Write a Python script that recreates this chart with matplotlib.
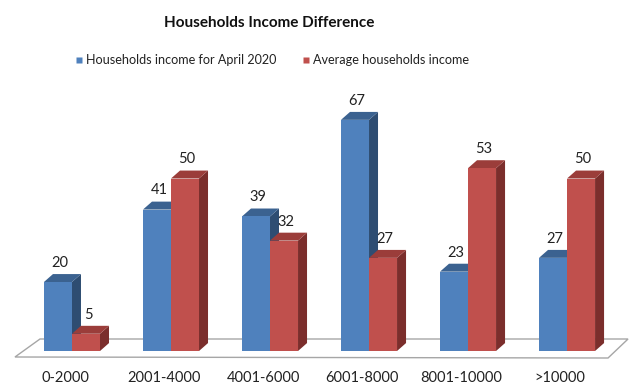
import matplotlib
matplotlib.use("Agg")
import matplotlib.pyplot as plt
from matplotlib.patches import Polygon
from matplotlib.lines import Line2D

categories = ["0-2000", "2001-4000", "4001-6000", "6001-8000", "8001-10000", ">10000"]
april_2020 = [20, 41, 39, 67, 23, 27]
average = [5, 50, 32, 27, 53, 50]
series_names = ["Households income for April 2020", "Average households income"]

# face colours: front, top, side
blue = ("#4F81BD", "#3B6290", "#2E4D72")
red = ("#C0504D", "#9B3D3A", "#7B2E2C")

plt.rcParams["font.family"] = ["Lato", "DejaVu Sans"]

fig = plt.figure(figsize=(6.3, 3.85), dpi=100)
ax = fig.add_axes([0, 0, 1, 1])
ax.set_xlim(-0.727, 5.636)
ax.set_ylim(-9.855, 101.74)
ax.axis("off")

bar_w = 0.283     # width of one bar (category units)
dx, dy = 0.091, 2.3  # depth offset of the 3D extrusion

# floor plane
fx = lambda p: (p - 72) / 99
fy = lambda p: (351 - p) / 3.45
floor = Polygon([(fx(15), fy(357)), (fx(608), fy(358)), (fx(628), fy(339)), (fx(40), fy(339))],
                closed=True, facecolor="white", edgecolor="#A6A6A6", lw=1.0, zorder=1)
ax.add_patch(floor)


def bar3d(x0, h, cols):
    x1 = x0 + bar_w
    front = [(x0, 0), (x1, 0), (x1, h), (x0, h)]
    top = [(x0, h), (x1, h), (x1 + dx, h + dy), (x0 + dx, h + dy)]
    side = [(x1, 0), (x1 + dx, dy), (x1 + dx, h + dy), (x1, h)]
    ax.add_patch(Polygon(side, closed=True, facecolor=cols[2], edgecolor="none", zorder=2))
    ax.add_patch(Polygon(top, closed=True, facecolor=cols[1], edgecolor="none", zorder=2))
    ax.add_patch(Polygon(front, closed=True, facecolor=cols[0], edgecolor="none", zorder=2))


for i, (a, b) in enumerate(zip(april_2020, average)):
    bar3d(i - bar_w, a, blue)
    bar3d(i, b, red)
    ax.text(i - bar_w / 2 + 0.02, a + dy + 1.2, str(a), ha="center", va="bottom",
            fontsize=10.5, color="#222222", zorder=3)
    ax.text(i + bar_w / 2 + 0.02, b + dy + 1.2, str(b), ha="center", va="bottom",
            fontsize=10.5, color="#222222", zorder=3)
    ax.text(i - 0.07, fy(378), categories[i], ha="center", va="center",
            fontsize=10.5, color="#222222")

fig.text(269 / 630, 1 - 23 / 385, "Households Income Difference", ha="center", va="center",
         fontsize=11, fontweight="bold", color="#111111")

handles = [Line2D([], [], linestyle="none", marker="s", markersize=5,
                  markerfacecolor=c[0], markeredgecolor="none", label=n)
           for c, n in zip((blue, red), series_names)]
fig.legend(handles=handles, loc="center", bbox_to_anchor=(272 / 630, 1 - 60 / 385), ncol=2,
           frameon=False, fontsize=9.1, handlelength=0.6,
           handletextpad=0.25, columnspacing=2.0, labelcolor="#222222")

fig.savefig("out.png", dpi=100)
